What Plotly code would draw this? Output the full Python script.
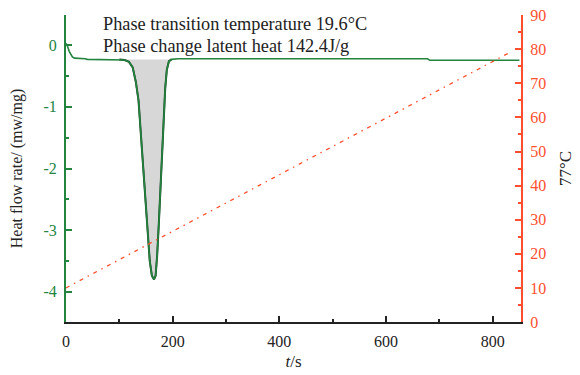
import plotly.graph_objects as go

# DSC heat flow curve (time in s, heat flow in mW/mg)
t_dsc = [0, 3, 6, 9, 12, 16, 22, 30, 36, 40, 60, 80, 100, 110, 118, 125, 131, 136, 140, 144, 148,
         152, 157, 161, 165, 168, 171, 174, 177, 180, 183, 186, 189, 193, 198, 210, 300, 400,
         500, 600, 678, 682, 760, 850]
hf_dsc = [0.03, -0.02, -0.10, -0.16, -0.19, -0.21, -0.21, -0.21, -0.22, -0.23, -0.23, -0.23,
          -0.23, -0.24, -0.27, -0.36, -0.60, -0.90, -1.40, -1.90, -2.45, -3.00, -3.50, -3.74,
          -3.80, -3.74, -3.40, -2.90, -2.30, -1.80, -1.20, -0.70, -0.40, -0.26, -0.23, -0.22,
          -0.22, -0.22, -0.22, -0.22, -0.22, -0.245, -0.245, -0.245]

# Melting peak region (shaded area)
t_peak = [100, 110, 118, 125, 131, 136, 140, 144, 148, 152, 157, 161, 165, 168, 171, 174,
          177, 180, 183, 186, 189, 193, 198]
hf_peak = [-0.23, -0.24, -0.27, -0.36, -0.60, -0.90, -1.40, -1.90, -2.45, -3.00, -3.50, -3.74,
           -3.80, -3.74, -3.40, -2.90, -2.30, -1.80, -1.20, -0.70, -0.40, -0.26, -0.23]

# Temperature program (time in s, temperature in °C)
t_temp = [0, 835]
temp = [10, 79.3]

# Tick labels
y_ticks = [0, -1, -2, -3, -4]
y_ticktext = ["0", "-1", "-2", "-3", "-4"]
x_ticks = [0, 200, 400, 600, 800]
y2_ticks = [0, 10, 20, 30, 40, 50, 60, 70, 80, 90]

GREEN = "#23843f"
RED = "#ff4f2e"
INK = "#222222"
FONT = "Liberation Serif"

fig = go.Figure()
fig.add_trace(go.Scatter(x=t_peak, y=hf_peak, fill="toself", fillcolor="#d6d7d6",
                         mode="lines", line=dict(color="#1c3a22", width=2),
                         showlegend=False, hoverinfo="skip"))
fig.add_trace(go.Scatter(x=t_dsc, y=hf_dsc, mode="lines",
                         line=dict(color=GREEN, width=1.6), showlegend=False))
fig.add_trace(go.Scatter(x=t_temp, y=temp, mode="lines", yaxis="y2",
                         line=dict(color=RED, width=1.3, dash="4px,5px,1.5px,5px"),
                         showlegend=False))

# The page body adds an 8px offset, so the figure is sized to fit the 580x375 window
fig.update_layout(
    width=572, height=367,
    margin=dict(l=58, r=59, t=7, b=53),
    paper_bgcolor="white", plot_bgcolor="white",
    font=dict(family=FONT, size=16, color=INK),
    xaxis=dict(range=[0, 853], tickvals=x_ticks, ticks="inside", ticklen=6, tickwidth=1.5,
               tickcolor=INK, showline=True, linecolor=INK, linewidth=2,
               showgrid=False, zeroline=False, automargin=False, ticklabelstandoff=4,
               minor=dict(ticks="inside", ticklen=3, dtick=100, tickcolor=INK, showgrid=False),
               title=dict(text="<i>t</i>/s", standoff=6, font=dict(size=17)),
               tickfont=dict(size=16, color=INK)),
    yaxis=dict(range=[-4.49, 0.49], tickvals=y_ticks, ticktext=y_ticktext, ticks="inside",
               ticklen=6, tickwidth=1.5, tickcolor=GREEN, showline=True, linecolor=GREEN,
               linewidth=2, showgrid=False, zeroline=False, automargin=False,
               ticklabelstandoff=4,
               minor=dict(ticks="inside", ticklen=3, dtick=0.5, tickcolor=GREEN, showgrid=False),
               tickfont=dict(size=16, color=GREEN),
               title=dict(text="Heat flow rate/ (mw/mg)", standoff=18,
                          font=dict(size=16, color=INK))),
    yaxis2=dict(range=[0, 90.03], overlaying="y", side="right", tickvals=y2_ticks,
                ticks="inside", ticklen=6, tickwidth=1.5, tickcolor=RED, showline=True,
                linecolor=RED, linewidth=2, showgrid=False, zeroline=False, automargin=False,
                ticklabelstandoff=4, ticklabeloverflow="allow",
                minor=dict(ticks="inside", ticklen=3, dtick=5, tickcolor=RED, showgrid=False),
                tickfont=dict(size=16, color=RED),
                title=dict(text="77°C", standoff=14, font=dict(size=17, color=INK))),
    annotations=[
        dict(text="Phase transition temperature 19.6°C", xref="paper", yref="paper",
             x=0.078, y=1.0, xanchor="left", yanchor="middle", showarrow=False,
             font=dict(size=18.3, color=INK), yshift=-9),
        dict(text="Phase change latent heat 142.4J/g", xref="paper", yref="paper",
             x=0.078, y=1.0, xanchor="left", yanchor="middle", showarrow=False,
             font=dict(size=18.3, color=INK), yshift=-31),
    ],
)

fig.write_html("out.html")
